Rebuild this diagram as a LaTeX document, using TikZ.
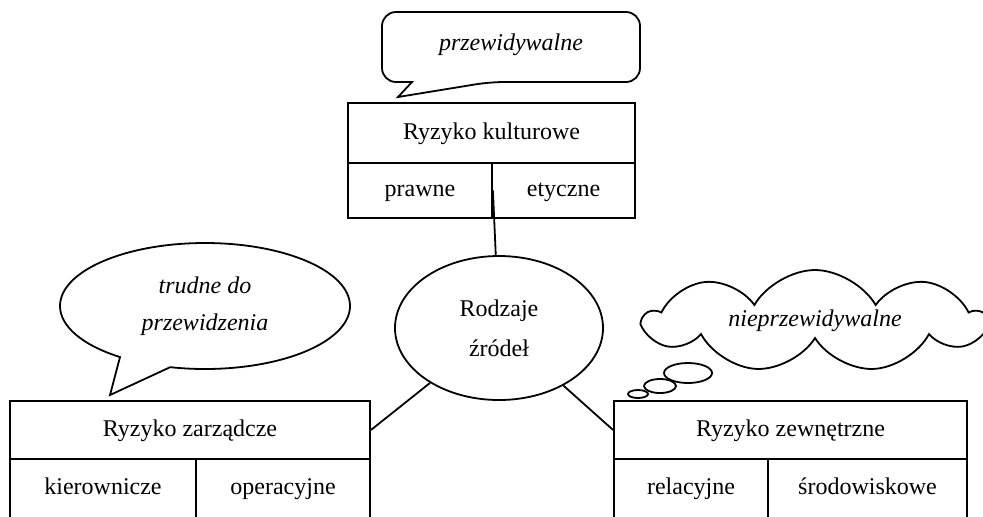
\documentclass[tikz,border=0pt]{standalone}
\usepackage{fontspec}
\setmainfont{Liberation Serif}
\usetikzlibrary{shapes,shapes.callouts,shapes.symbols}

\begin{document}
\begin{tikzpicture}[x=0.5pt,y=-0.5pt,line width=0.9pt,
    head/.style={draw,rectangle,inner sep=0pt,text height=8.5pt,text depth=2.5pt,font=\fontsize{12}{14}\selectfont},
    cell/.style={draw,rectangle,inner sep=0pt,text height=8.5pt,text depth=2.5pt,font=\fontsize{12}{14}\selectfont},
    note/.style={align=center,font=\fontsize{12}{18.5}\selectfont\itshape}]
    \useasboundingbox (0,0) rectangle (983,516);
    \clip (0,0) rectangle (983,516);

    % top box
    \node[head,minimum width=143.5pt,minimum height=30pt] (kult) at (491.5,133) {Ryzyko kulturowe};
    \node[cell,minimum width=72pt,minimum height=27.5pt] (prawne) at (420,190.5) {prawne};
    \node[cell,minimum width=71.5pt,minimum height=27.5pt] (etyczne) at (563.5,190.5) {etyczne};

    % left box
    \node[head,minimum width=180pt,minimum height=29pt] (zarz) at (190,430) {Ryzyko zarządcze};
    \node[cell,minimum width=93pt,minimum height=29.5pt] (kier) at (103,488.5) {kierownicze};
    \node[cell,minimum width=87pt,minimum height=29.5pt] (oper) at (283,488.5) {operacyjne};

    % right box
    \node[head,minimum width=176.5pt,minimum height=29pt] (zewn) at (790.5,430) {Ryzyko zewnętrzne};
    \node[cell,minimum width=77pt,minimum height=29.5pt] (rel) at (691,488.5) {relacyjne};
    \node[cell,minimum width=99.5pt,minimum height=29.5pt] (srod) at (867.5,488.5) {środowiskowe};

    % centre
    \node[draw,ellipse,minimum width=104pt,minimum height=72pt,inner sep=0pt,align=center,
        font=\fontsize{12}{20}\selectfont] (src) at (499,328) {Rodzaje\\źródeł};
    \draw (src) -- (prawne.east);
    \draw (src) -- (zarz.east);
    \draw (src) -- (zewn.west);

    % callouts
    \node[note] (pred) at (511,45) {przewidywalne};
    \draw (490,82) -- (398,97) -- (412,82) [rounded corners=7pt] -- (382,82) -- (382,12)
        -- (640,12) -- (640,82) -- cycle;
    \node[draw,ellipse callout,fill=white,minimum width=145pt,minimum height=63pt,inner sep=0pt,
        callout absolute pointer={(110,395)},callout pointer arc=22,note] (hard) at (205,306)
        {trudne do\\przewidzenia};
    \node[draw,cloud,cloud puffs=9,cloud puff arc=120,cloud ignores aspect,minimum width=170pt,
        minimum height=51pt,inner sep=0pt,note] (unpred) at (815,321) {nieprzewidywalne};
    \draw[fill=white] (688,373) ellipse [x radius=24,y radius=10];
    \draw[fill=white] (660,386) ellipse [x radius=16,y radius=7];
    \draw[fill=white] (638,394) ellipse [x radius=10,y radius=4];
\end{tikzpicture}
\end{document}
